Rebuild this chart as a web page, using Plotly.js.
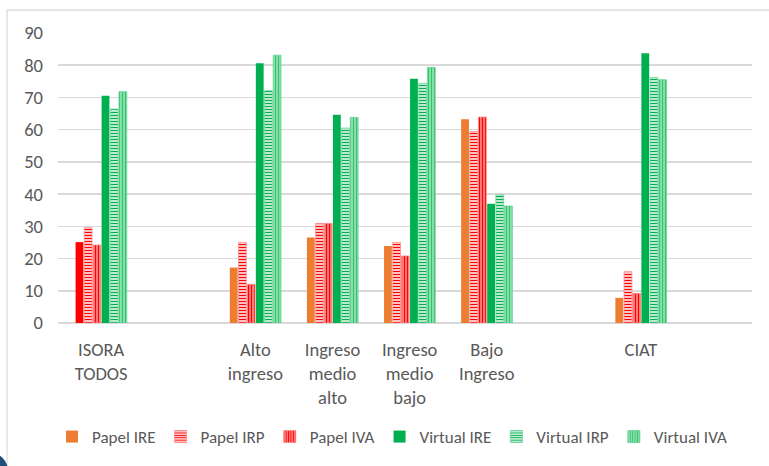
<!DOCTYPE html>
<html>
<head>
<meta charset="utf-8">
<script src="https://cdn.plot.ly/plotly-3.0.1.min.js"></script>
<style>html,body{margin:0;padding:0;background:#fff;}#chart{width:769px;height:466px;}</style>
</head>
<body>
<div id="chart"></div>
<script>
const categories = ["ISORA<br>TODOS", " ", "Alto<br>ingreso", "Ingreso<br>medio<br>alto", "Ingreso<br>medio<br>bajo", "Bajo<br>Ingreso", "  ", "CIAT"];
const papelIRE   = [25.1, null, 17.2, 26.5, 23.9, 63.2, null, 7.8];
const papelIRP   = [29.6, null, 25.0, 30.9, 25.0, 59.4, null, 15.9];
const papelIVA   = [24.2, null, 12.0, 30.9, 20.8, 63.9, null, 9.2];
const virtualIRE = [70.5, null, 80.6, 64.6, 75.8, 37.0, null, 83.7];
const virtualIRP = [66.4, null, 72.1, 60.5, 74.4, 39.8, null, 76.2];
const virtualIVA = [71.8, null, 83.1, 63.8, 79.3, 36.3, null, 75.5];
const seriesNames = ["Papel IRE", "Papel IRP", "Papel IVA", "Virtual IRE", "Virtual IRP", "Virtual IVA"];

const FONT = "Carlito, Lato, Roboto, sans-serif";
const GRAY = "#595959";

// Data order rotated so the legend takes its colour from an orange point;
// the axis order still comes from categoryarray.
const order = categories.map((c, i) => i).slice(2).concat([0, 1]);
const rot = arr => order.map(i => arr[i]);

const ireColors = order.map(i => i === 0 ? "#FF0000" : "#ED7D31");

const styles = [
  {color: ireColors, line: {width: 0}},
  {color: "#FF0000", pattern: {shape: "-", size: 3, solidity: 0.45, fgcolor: "#FF0000", bgcolor: "#FFEAEA", fillmode: "replace"}, line: {width: 0.8, color: "#FF9090"}},
  {color: "#FF0000", pattern: {shape: "|", size: 3, solidity: 0.6, fgcolor: "#FF0000", bgcolor: "#FFC8C8", fillmode: "replace"}, line: {width: 0.8, color: "#FF8080"}},
  {color: "#00B050", line: {width: 0}},
  {color: "#00B050", pattern: {shape: "-", size: 3, solidity: 0.45, fgcolor: "#00B050", bgcolor: "#E3F7EA", fillmode: "replace"}, line: {width: 0.8, color: "#70D39C"}},
  {color: "#2EC46A", pattern: {shape: "|", size: 3, solidity: 0.6, fgcolor: "#2EC46A", bgcolor: "#C4F0D4", fillmode: "replace"}, line: {width: 0.8, color: "#66D096"}}
];
const values = [papelIRE, papelIRP, papelIVA, virtualIRE, virtualIRP, virtualIVA];

const traces = values.map((v, i) => ({
  type: "bar",
  name: seriesNames[i],
  x: rot(categories),
  y: rot(v),
  marker: styles[i],
  hoverinfo: "name+y"
}));

const L = 58, R = 17, T = 33, B = 142, W = 769, H = 466;
const pw = W - L - R, ph = H - T - B;
const px = x => (x - L) / pw;
const py = y => (H - B - y) / ph;

const layout = {
  width: W, height: H,
  margin: {l: L, r: R, t: T, b: B, pad: 0},
  paper_bgcolor: "#ffffff",
  plot_bgcolor: "#ffffff",
  font: {family: FONT, color: GRAY, size: 18.5},
  barmode: "group",
  bargap: 0.325,
  bargroupgap: 0.1,
  showlegend: true,
  legend: {
    orientation: "h",
    x: px(392), xanchor: "center",
    y: py(437), yanchor: "middle",
    font: {family: FONT, size: 17, color: GRAY},
    traceorder: "normal",
    itemwidth: 30,
    bgcolor: "rgba(0,0,0,0)"
  },
  xaxis: {
    type: "category",
    categoryorder: "array",
    categoryarray: categories,
    range: [-0.56, 8.44],
    automargin: false,
    showgrid: false,
    showline: false,
    zeroline: false,
    ticks: "",
    ticklabelstandoff: 13,
    tickfont: {family: FONT, size: 18.5, color: GRAY},
    fixedrange: true
  },
  yaxis: {
    range: [0, 90],
    dtick: 10,
    tick0: 0,
    automargin: false,
    showgrid: true,
    gridcolor: "#D9D9D9",
    gridwidth: 1.5,
    zeroline: true,
    zerolinecolor: "#D9D9D9",
    zerolinewidth: 1.5,
    showline: false,
    ticks: "",
    ticklabelstandoff: 14,
    tickfont: {family: FONT, size: 18.5, color: GRAY},
    fixedrange: true
  },
  shapes: [
    {type: "rect", xref: "paper", yref: "paper", x0: px(7), x1: px(790), y0: py(490), y1: py(10),
     line: {color: "#D9D9D9", width: 1.2}, fillcolor: "rgba(0,0,0,0)", layer: "below"},
    {type: "circle", xref: "paper", yref: "paper", x0: px(-30), x1: px(8), y0: py(490), y1: py(454),
     line: {width: 0}, fillcolor: "#1F4E79", layer: "above"}
  ]
};

Plotly.newPlot("chart", traces, layout, {staticPlot: true, displayModeBar: false});
</script>
</body>
</html>
